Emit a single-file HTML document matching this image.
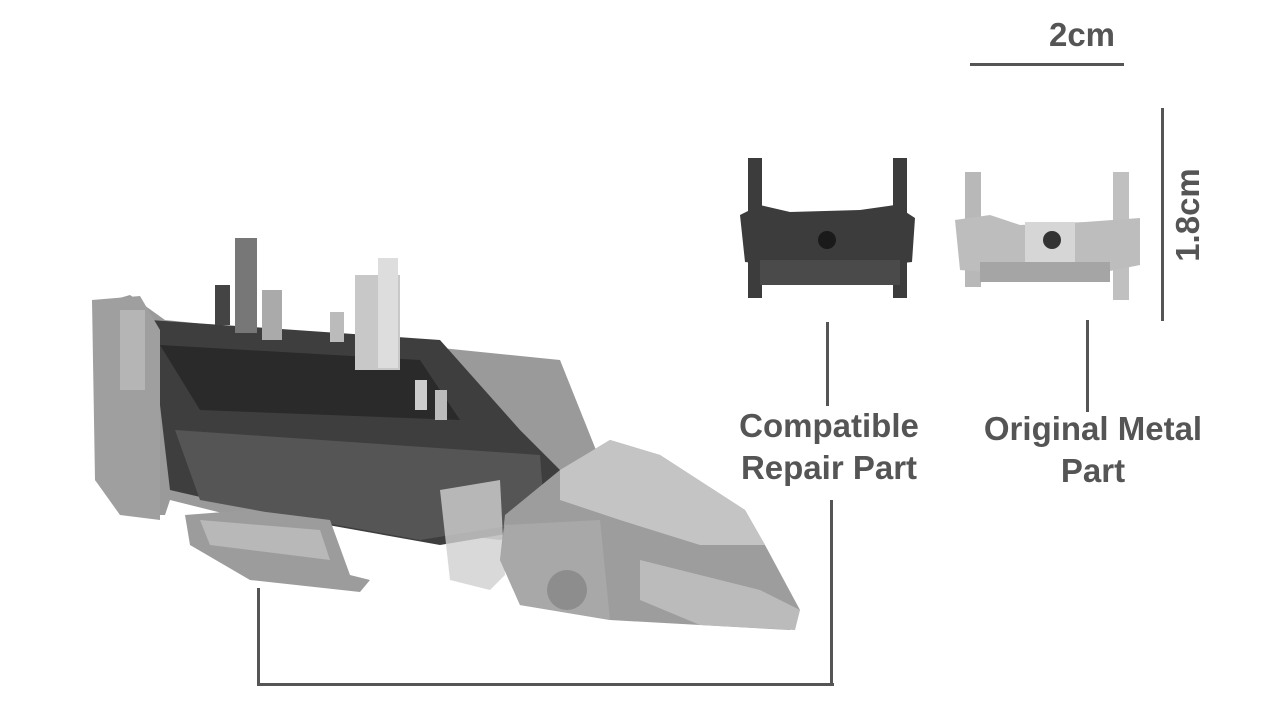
<!DOCTYPE html>
<html><head><meta charset="utf-8"><style>
html,body{margin:0;padding:0;background:#fff;}
#c{position:relative;width:1280px;height:720px;overflow:hidden;background:#fff;font-family:"Liberation Sans",sans-serif;}
.t{position:absolute;font-weight:bold;color:#555;font-size:33px;text-align:center;line-height:42px;}
.l{position:absolute;background:#555;}
</style></head><body><div id="c">
<svg width="1280" height="720" style="position:absolute;left:0;top:0">
<g>
<polygon points="95,305 130,295 165,320 560,360 600,460 560,520 500,540 330,520 250,520 170,500 165,515 125,515 95,480" fill="#9a9a9a"/>
<polygon points="150,320 440,340 520,430 560,470 530,530 440,545 300,520 170,490" fill="#3e3e3e"/>
<polygon points="160,345 420,360 460,420 200,410" fill="#2a2a2a"/>
<polygon points="175,430 540,455 545,520 420,540 200,500" fill="#555"/>
<rect x="235" y="238" width="22" height="95" fill="#777"/>
<rect x="262" y="290" width="20" height="50" fill="#aaa"/>
<rect x="355" y="275" width="45" height="95" fill="#c8c8c8"/>
<rect x="378" y="258" width="20" height="110" fill="#ddd"/>
<rect x="215" y="285" width="15" height="40" fill="#444"/>
<rect x="330" y="312" width="14" height="30" fill="#bbb"/>
<rect x="415" y="380" width="12" height="30" fill="#ccc"/>
<rect x="435" y="390" width="12" height="30" fill="#bbb"/>
<polygon points="92,300 140,296 160,330 160,520 120,515 95,480" fill="#9f9f9f"/>
<rect x="120" y="310" width="25" height="80" fill="#b5b5b5"/>
<polygon points="185,515 250,510 330,520 350,575 370,580 360,592 250,580 190,545" fill="#9c9c9c"/>
<polygon points="200,520 320,530 330,560 210,545" fill="#b8b8b8"/>
<polygon points="440,490 500,480 505,575 490,590 450,580" fill="#d0d0d0" opacity="0.8"/>
<polygon points="505,515 560,470 610,440 660,455 745,510 765,545 800,610 790,630 700,625 610,620 520,605 500,560" fill="#9d9d9d"/>
<polygon points="560,470 610,440 660,455 745,510 765,545 700,545 620,520 560,500" fill="#c4c4c4"/>
<polygon points="505,525 600,520 610,620 520,605 500,560" fill="#a8a8a8"/>
<circle cx="567" cy="590" r="20" fill="#8d8d8d"/>
<polygon points="640,560 760,590 800,610 795,630 700,625 640,600" fill="#bbb"/>
</g>
<g fill="#3c3c3c">
<rect x="748" y="158" width="14" height="140"/>
<rect x="893" y="158" width="14" height="140"/>
<polygon points="740,215 760,205 790,212 860,210 895,205 915,218 912,262 860,268 800,268 745,262"/>
<rect x="760" y="260" width="140" height="25" fill="#4a4a4a"/>
<circle cx="827" cy="240" r="9" fill="#1a1a1a"/>
</g>
<g>
<rect x="965" y="172" width="16" height="115" fill="#b8b8b8"/>
<rect x="1113" y="172" width="16" height="128" fill="#c0c0c0"/>
<polygon points="955,220 990,215 1020,225 1085,222 1140,218 1140,265 1090,275 1020,275 960,270" fill="#bdbdbd"/>
<rect x="1025" y="222" width="50" height="40" fill="#d6d6d6"/>
<circle cx="1052" cy="240" r="9" fill="#333"/>
<rect x="980" y="262" width="130" height="20" fill="#a5a5a5"/>
</g>
</svg>
<div class="l" style="left:970px;top:63px;width:154px;height:3px"></div>
<div class="t" style="left:1040px;top:14px;width:84px;">2cm</div>
<div class="l" style="left:1161px;top:108px;width:3px;height:213px"></div>
<div class="t" style="left:1140px;top:194px;width:96px;transform:rotate(-90deg);">1.8cm</div>
<div class="l" style="left:826px;top:322px;width:3px;height:84px"></div>
<div class="t" style="left:690px;top:405px;width:278px;">Compatible<br>Repair Part</div>
<div class="l" style="left:1086px;top:320px;width:3px;height:92px"></div>
<div class="t" style="left:950px;top:408px;width:286px;">Original Metal<br>Part</div>
<div class="l" style="left:257px;top:588px;width:3px;height:98px"></div>
<div class="l" style="left:257px;top:683px;width:577px;height:3px"></div>
<div class="l" style="left:830px;top:500px;width:3px;height:186px"></div>
</div></body></html>
